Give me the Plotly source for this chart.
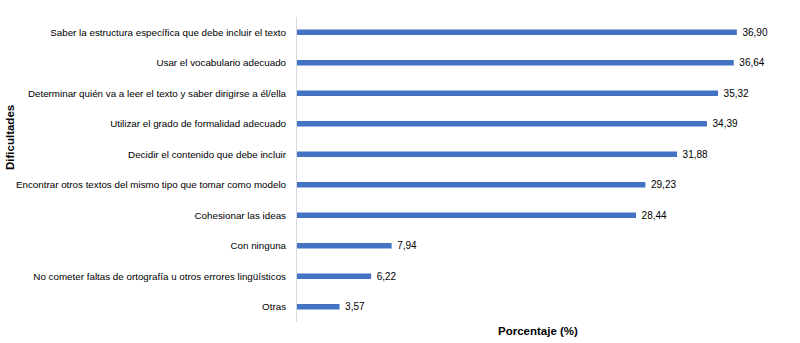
import plotly.graph_objects as go

categories = [
    "Saber la estructura específica que debe incluir el texto",
    "Usar el vocabulario adecuado",
    "Determinar quién va a leer el texto y saber dirigirse a él/ella",
    "Utilizar el grado de formalidad adecuado",
    "Decidir el contenido que debe incluir",
    "Encontrar otros textos del mismo tipo que tomar como modelo",
    "Cohesionar las ideas",
    "Con ninguna",
    "No cometer faltas de ortografía u otros errores lingüísticos",
    "Otras",
]
values = [36.90, 36.64, 35.32, 34.39, 31.88, 29.23, 28.44, 7.94, 6.22, 3.57]
value_labels = ["\u00a0\u00a0" + f"{v:.2f}".replace(".", ",") for v in values]

W, H = 800, 343
L, R, T, B = 297, 22, 17, 21
ph = H - T - B
FONT = "Liberation Sans, Arial"

fig = go.Figure(go.Bar(
    y=categories, x=values, orientation="h",
    marker=dict(color="#4472C4", line=dict(width=0)),
    width=0.18,
    text=value_labels, textposition="outside", constraintext="none",
    textfont=dict(family=FONT, size=10, color="#000000"),
    cliponaxis=False,
))

fig.update_layout(
    width=W, height=H,
    margin=dict(l=L, r=R, t=T, b=B, pad=0, autoexpand=False),
    paper_bgcolor="white", plot_bgcolor="white",
    font=dict(family=FONT, size=10, color="#000000"),
    showlegend=False,
    xaxis=dict(range=[0, 40.35], showticklabels=False, showgrid=False,
               zeroline=False, ticks="", showline=False, automargin=False),
    yaxis=dict(categoryorder="array", categoryarray=categories[::-1],
               range=[-0.5, 9.5], showline=True, linecolor="#D9D9D9",
               linewidth=1, ticks="", showgrid=False, zeroline=False,
               ticklabelstandoff=8, automargin=False,
               tickfont=dict(family=FONT, size=9.8, color="#000000")),
    annotations=[
        dict(text="<b>Porcentaje (%)</b>", xref="paper", yref="paper",
             x=0.5, y=-(331 - (H - B)) / ph, xanchor="center", yanchor="middle",
             showarrow=False, font=dict(family=FONT, size=11.5, color="#000000")),
        dict(text="<b>Dificultades</b>", xref="paper", yref="paper",
             x=-(L - 10) / (W - L - R), y=1 - (138 - T) / ph,
             xanchor="center", yanchor="middle", textangle=-90,
             showarrow=False, font=dict(family=FONT, size=11.5, color="#000000")),
    ],
)

fig.write_html("out.html", config={"displayModeBar": False},
               post_script="document.body.style.margin='0';")
